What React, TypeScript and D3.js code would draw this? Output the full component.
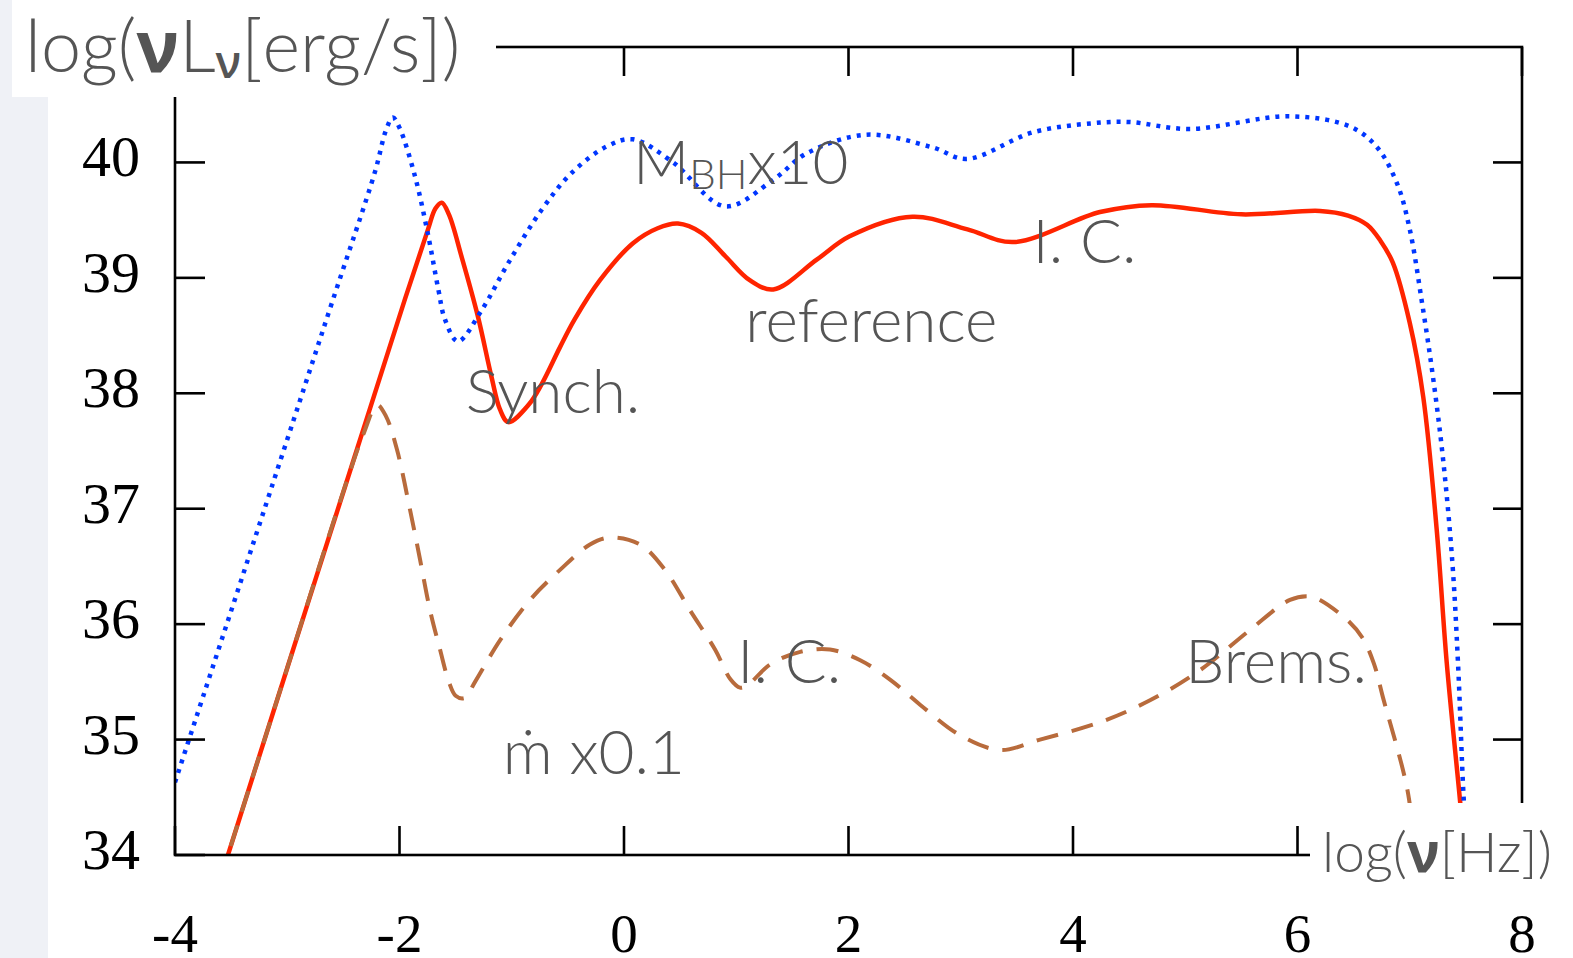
import React from 'react';
import * as d3 from 'd3';

const width = 1573,
      height = 958;

// log(nu) axis and log(nu L_nu) axis
const xTicks = [-4, -2, 0, 2, 4, 6, 8];
const yTicks = [34, 35, 36, 37, 38, 39, 40];

// red solid: reference model
const reference: [number, number][] = [
  [-3.6, 33.78], [-3.0, 35.62], [-2.4, 37.45], [-1.95, 38.82], [-1.746, 39.42], [-1.68, 39.6],
  [-1.624, 39.65], [-1.56, 39.55], [-1.446, 39.18], [-1.3, 38.66], [-1.18, 38.14], [-1.105, 37.86],
  [-1.03, 37.75], [-0.85, 37.9], [-0.733, 38.08], [-0.57, 38.4], [-0.44, 38.64], [-0.214, 38.98],
  [0.08, 39.3], [0.3, 39.43], [0.48, 39.47], [0.69, 39.39], [0.905, 39.185], [1.12, 38.98],
  [1.33, 38.9], [1.72, 39.16], [2.01, 39.36], [2.57, 39.53], [3.06, 39.42], [3.47, 39.31],
  [4.24, 39.57], [4.7, 39.63], [5.5, 39.55], [6.2, 39.58], [6.45, 39.54], [6.62, 39.46],
  [6.74, 39.32], [6.85, 39.13], [7.0, 38.61], [7.12, 37.97], [7.24, 36.82], [7.33, 35.66],
  [7.45, 34.45], [7.5, 33.9]
];

// blue dotted: M_BH x 10
const massX10: [number, number][] = [
  [-4.0, 34.63], [-3.0, 37.6], [-2.6, 38.79], [-2.218, 39.92], [-2.12, 40.28], [-2.06, 40.39],
  [-2.0, 40.3], [-1.862, 39.88], [-1.743, 39.36], [-1.654, 38.9], [-1.595, 38.64], [-1.48, 38.45],
  [-1.268, 38.72], [-1.03, 39.13], [-0.733, 39.59], [-0.466, 39.91], [-0.15, 40.14], [0.08, 40.2],
  [0.437, 40.0], [0.9, 39.62], [1.33, 39.85], [1.63, 40.08], [2.16, 40.24], [2.75, 40.13],
  [3.05, 40.03], [3.64, 40.26], [4.18, 40.34], [4.5, 40.35], [5.04, 40.29], [5.93, 40.4],
  [6.47, 40.31], [6.71, 40.13], [6.89, 39.81], [7.0, 39.42], [7.11, 38.78], [7.21, 38.12],
  [7.3, 37.4], [7.38, 36.53], [7.43, 35.66], [7.48, 34.5], [7.52, 33.9]
];

// brown dashed: mdot x 0.1
const mdotX01: [number, number][] = [
  [-3.6, 33.78], [-3.0, 35.62], [-2.5, 37.15], [-2.32, 37.65], [-2.2, 37.9], [-2.12, 37.8],
  [-2.022, 37.51], [-1.906, 36.99], [-1.817, 36.56], [-1.728, 36.12], [-1.639, 35.78], [-1.56, 35.5],
  [-1.5, 35.38], [-1.42, 35.36], [-1.327, 35.5], [-1.105, 35.86], [-0.837, 36.21], [-0.57, 36.47],
  [-0.303, 36.69], [-0.125, 36.75], [0.143, 36.69], [0.365, 36.47], [0.588, 36.12], [0.811, 35.78],
  [0.95, 35.52], [1.033, 35.45], [1.1, 35.47], [1.3, 35.65], [1.57, 35.76], [1.835, 35.78],
  [2.1, 35.69], [2.37, 35.52], [2.64, 35.3], [2.99, 35.04], [3.35, 34.91], [3.706, 35.0],
  [4.24, 35.15], [4.686, 35.34], [5.13, 35.6], [5.577, 35.95], [5.933, 36.21], [6.11, 36.24],
  [6.2, 36.21], [6.45, 36.03], [6.58, 35.88], [6.68, 35.66], [6.76, 35.37], [6.98, 34.56],
  [7.05, 34.0]
];

const x = d3.scaleLinear().domain([-4, 8]).range([175, 1522]);
const y = d3.scaleLinear().domain([34, 41]).range([855, 47]);

const line = d3.line<[number, number]>()
  .x(d => x(d[0]))
  .y(d => y(d[1]))
  .curve(d3.curveCatmullRom.alpha(0.5));

const labelFont = "Lato, 'Open Sans', sans-serif";
const greek = "'Open Sans', 'Noto Sans', sans-serif";
const grey = '#555';

function Annotation({ at, children }: { at: [number, number], children: any }) {
  return <text x={x(at[0])} y={y(at[1])} fontFamily={labelFont} fontWeight={300}
               fontSize={62} fill={grey}>{children}</text>;
}

export default function App() {
  const x0 = x(-4), x1 = x(8), y0 = y(34), y1 = y(41);

  return (
    <svg width={width} height={height}
         style={{ position: 'absolute', left: 0, top: 0, display: 'block', background: 'white' }}>
      <rect x={0} y={0} width={48} height={height} fill="#eff1f6" />
      <defs>
        <clipPath id="plot"><rect x={x0} y={y1} width={x1 - x0} height={y0 - y1} /></clipPath>
      </defs>

      <g clipPath="url(#plot)" fill="none">
        <path d={line(reference)!} stroke="#ff2400" strokeWidth={4.5} />
        <path d={line(mdotX01)!} stroke="#b86b3c" strokeWidth={4} strokeDasharray="22 14" />
        <path d={line(massX10)!} stroke="#0036ff" strokeWidth={4.5} strokeDasharray="4 6" />
      </g>

      {/* frame */}
      <rect x={x0} y={y1} width={x1 - x0} height={y0 - y1} fill="none" stroke="black" strokeWidth={2.6} />
      {yTicks.map(t =>
        <g key={`y${t}`} stroke="black" strokeWidth={2.6}>
          <line x1={x0} x2={x0 + 30} y1={y(t)} y2={y(t)} />
          <line x1={x1} x2={x1 - 29} y1={y(t)} y2={y(t)} />
        </g>)}
      {xTicks.map(t =>
        <g key={`x${t}`} stroke="black" strokeWidth={2.6}>
          <line x1={x(t)} x2={x(t)} y1={y0} y2={y0 - 29} />
          <line x1={x(t)} x2={x(t)} y1={y1} y2={y1 + 29} />
        </g>)}

      {/* label boxes that sit over the frame */}
      <rect x={12} y={0} width={484} height={97} fill="white" />
      <rect x={1310} y={803} width={width - 1310} height={height - 803} fill="white" />

      <text x={25} y={72} fontFamily={labelFont} fontWeight={300} fontSize={72} fill={grey}>
        log(<tspan fontFamily={greek} fontWeight={700}>ν</tspan>L<tspan fontFamily={greek} fontWeight={600} fontSize={45} dy={6}>ν</tspan><tspan dy={-6}>[erg/s])</tspan>
      </text>
      <text x={1322} y={872} fontFamily={labelFont} fontWeight={300} fontSize={55} fill={grey}>
        log(<tspan fontFamily={greek} fontWeight={700}>ν</tspan>[Hz])
      </text>

      {yTicks.map(t =>
        <text key={`yl${t}`} x={140} y={y(t) + 14} textAnchor="end"
              fontFamily="'Liberation Serif', serif" fontSize={58} fill="black">{t}</text>)}
      {xTicks.map(t =>
        <text key={`xl${t}`} x={x(t)} y={952} textAnchor="middle"
              fontFamily="'Liberation Serif', serif" fontSize={55} fill="black">{t}</text>)}

      <Annotation at={[0.08, 39.81]}>M<tspan fontSize={42} dy={5}>BH</tspan><tspan dy={-5}>x10</tspan></Annotation>
      <Annotation at={[3.64, 39.13]}>I. C.</Annotation>
      <Annotation at={[1.08, 38.44]}>reference</Annotation>
      <Annotation at={[-1.41, 37.83]}>Synch.</Annotation>
      <Annotation at={[1.01, 35.49]}>I. C.</Annotation>
      <Annotation at={[5.0, 35.49]}>Brems.</Annotation>
      <Annotation at={[-1.08, 34.7]}>ṁ x0.1</Annotation>
    </svg>
  );
}
